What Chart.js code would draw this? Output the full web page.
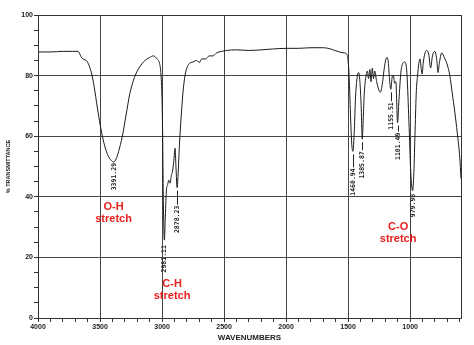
<!DOCTYPE html>
<html>
<head>
<meta charset="utf-8">
<script src="https://cdn.jsdelivr.net/npm/chart.js@4.4.0/dist/chart.umd.min.js"></script>
<style>
  html, body { margin: 0; padding: 0; background: #fff; }
  #wrap { width: 474px; height: 345px; }
</style>
</head>
<body>
<div id="wrap"><canvas id="irChart"></canvas></div>
<script>
// IR spectrum (wavenumber in cm-1, % transmittance)
var wavenumbers = [
    4000, 3900, 3800, 3720, 3677, 3650, 3630, 3610, 3595, 3570,
    3550, 3520, 3500, 3470, 3440, 3410, 3391.29, 3370, 3350, 3320,
    3290, 3260, 3230, 3200, 3150, 3100, 3070, 3040, 3020, 3010,
    3000, 2995, 2990, 2981.11, 2975, 2965, 2955, 2945, 2935, 2925,
    2915, 2905, 2895, 2888, 2878.23, 2870, 2860, 2845, 2830, 2815,
    2800, 2780, 2750, 2720, 2700, 2680, 2650, 2620, 2590, 2560,
    2520, 2480, 2400, 2300, 2200, 2100, 2000, 1900, 1800, 1700,
    1650, 1600, 1560, 1530, 1510, 1500, 1490, 1480, 1470, 1460.94,
    1450, 1440, 1425, 1415, 1405, 1395, 1385.87, 1378, 1370, 1355,
    1345, 1335, 1325, 1315, 1305, 1295, 1285, 1270, 1250, 1240,
    1225, 1210, 1195, 1185, 1175, 1165, 1155.51, 1145, 1135, 1125,
    1115, 1101.49, 1090, 1075, 1060, 1045, 1035, 1025, 1010, 995,
    979.98, 970, 960, 950, 940, 930, 920, 910, 903, 895,
    880, 865, 850, 835, 820, 800, 785, 775, 765, 745,
    725, 700, 680, 660, 640, 620, 600, 590
];
var transmittance = [
    87.8, 87.8, 88, 88, 88, 86, 85.3, 85, 84, 81,
    77, 69, 64, 58, 54, 52, 51.5, 52.5, 55, 60,
    67, 74, 78.5, 81.5, 84.5, 86, 86.5, 85.5, 84, 81,
    72, 60, 40, 25.7, 32, 42, 44, 45.5, 44.5, 47,
    48.5, 52, 56, 50, 43, 48, 57, 67, 75, 80,
    82.5, 84, 84.5, 85, 84.3, 85.5, 85.5, 86.5, 86.5, 87.5,
    88, 88.3, 88.5, 88.3, 88.5, 88.8, 89, 89, 89.2, 89.2,
    88.9, 88.2, 87.7, 87.5, 87, 85, 78, 66, 57, 55,
    62, 73, 80, 81, 78, 70, 59, 66, 74, 80,
    81.5, 79, 82, 78, 82.5, 79, 81.5, 78, 75, 74.5,
    77, 82, 85.5, 86, 84, 78, 75.5, 79.5, 80, 77.5,
    78, 64.5, 72, 81, 84, 84.5, 84, 80, 65, 48,
    42, 48, 62, 75, 80, 84, 85.5, 82, 80.5, 84,
    87.5, 88.3, 87, 82.5, 86.5, 88, 85, 81, 84, 87.5,
    86, 83.5, 80, 74, 68, 61, 53, 46
];

var xTickValues = [4000, 3900, 3800, 3700, 3600, 3500, 3400, 3300, 3200, 3100, 3000,
    2900, 2800, 2700, 2600, 2500, 2400, 2300, 2200, 2100, 2000, 1900, 1800, 1700,
    1600, 1500, 1400, 1300, 1200, 1100, 1000, 900, 800, 700, 600];
var yTickValues = [0, 5, 10, 15, 20, 25, 30, 35, 40, 45, 50, 55, 60, 65, 70, 75, 80, 85, 90, 95, 100];

var peakWavenumbers = [3391.29, 2981.11, 2878.23, 1460.94, 1385.87, 1155.51, 1101.49, 979.98];
var peakLabels = ['3391.29', '2981.11', '2878.23', '1460.94', '1385.87', '1155.51', '1101.49', '979.98'];

var bandNames = [['O-H', 'stretch'], ['C-H', 'stretch'], ['C-O', 'stretch']];
var bandWavenumbers = [3391, 2919, 1097];
var bandTransmittance = [34.8, 9.1, 28];

var points = wavenumbers.map(function(w, i) { return { x: w, y: transmittance[i] }; });

// peak numbers written vertically under each minimum, with a small leader line
var peakLabelPlugin = {
    id: 'peakLabels',
    afterDatasetsDraw: function(chart, args, opts) {
        var ctx = chart.ctx;
        var xs = chart.scales.x, ys = chart.scales.y;
        ctx.save();
        ctx.font = 'bold 6.5px "DejaVu Sans Mono"';
        ctx.fillStyle = '#222';
        ctx.strokeStyle = '#222';
        ctx.lineWidth = 1;
        peakWavenumbers.forEach(function(wn, i) {
            var idx = wavenumbers.indexOf(wn);
            var px = Math.round(xs.getPixelForValue(wn)) + 0.5;
            var py = ys.getPixelForValue(transmittance[idx]);
            var top = py + opts.gaps[i];
            if (opts.gaps[i] > 6) {
                ctx.beginPath();
                ctx.moveTo(px, py + 3);
                ctx.lineTo(px, top - 1);
                ctx.stroke();
            }
            ctx.save();
            ctx.translate(px, top);
            ctx.rotate(-Math.PI / 2);
            ctx.textAlign = 'right';
            ctx.textBaseline = 'middle';
            ctx.fillText(peakLabels[i], 0, 0);
            ctx.restore();
        });
        // red band assignments
        ctx.font = 'bold 11px Arial';
        ctx.fillStyle = '#e8201e';
        ctx.textAlign = 'center';
        ctx.textBaseline = 'middle';
        bandNames.forEach(function(lines, i) {
            var bx = xs.getPixelForValue(bandWavenumbers[i]);
            var by = ys.getPixelForValue(bandTransmittance[i]);
            ctx.fillText(lines[0], bx, by - 6);
            ctx.fillText(lines[1], bx, by + 6);
        });
        ctx.restore();
    }
};

var framePlugin = {
    id: 'frame',
    afterDraw: function(chart) {
        var a = chart.chartArea, ctx = chart.ctx;
        ctx.save();
        ctx.strokeStyle = '#333';
        ctx.lineWidth = 1;
        ctx.strokeRect(Math.round(a.left) + 0.5, Math.round(a.top) + 0.5,
            Math.round(a.right - a.left), Math.round(a.bottom - a.top));
        ctx.restore();
    }
};

var ctx = document.getElementById('irChart').getContext('2d');

var irChart = new Chart(ctx, {
    type: 'line',
    data: {
        datasets: [{
            data: points,
            borderColor: '#1a1a1a',
            borderWidth: 1,
            pointRadius: 0,
            cubicInterpolationMode: 'monotone',
            fill: false
        }]
    },
    options: {
        responsive: true,
        maintainAspectRatio: false,
        animation: false,
        layout: { padding: { left: 0, top: 15, right: 13, bottom: 0 } },
        plugins: {
            legend: { display: false },
            tooltip: { enabled: false },
            peakLabels: { gaps: [1, 5, 18, 17, 12, 13, 10, 3] }
        },
        scales: {
            x: {
                type: 'linear',
                reverse: true,
                min: 590,
                max: 4000,
                afterBuildTicks: function(scale) {
                    scale.ticks = xTickValues.map(function(v) { return { value: v }; });
                },
                afterFit: function(scale) { scale.height = 27; },
                border: { display: false },
                grid: {
                    color: function(c) {
                        var v = c.tick ? c.tick.value : 0;
                        return (v % 500 === 0 && v !== 4000) ? '#444' : 'rgba(0,0,0,0)';
                    },
                    tickColor: '#333',
                    tickLength: 4
                },
                ticks: {
                    autoSkip: false,
                    maxRotation: 0,
                    padding: 1,
                    color: '#222',
                    font: { family: 'Arial', size: 7, weight: 'bold' },
                    callback: function(v) { return v % 500 === 0 ? v : ''; }
                },
                title: {
                    display: true,
                    text: 'WAVENUMBERS',
                    color: '#222',
                    font: { family: 'Arial', size: 8, weight: 'bold' },
                    padding: { top: 0, bottom: 2 }
                }
            },
            y: {
                min: 0,
                max: 100,
                afterBuildTicks: function(scale) {
                    scale.ticks = yTickValues.map(function(v) { return { value: v }; });
                },
                afterFit: function(scale) { scale.width = 38; },
                border: { display: false },
                grid: {
                    color: function(c) {
                        var v = c.tick ? c.tick.value : 0;
                        return (v % 20 === 0 && v !== 0 && v !== 100) ? '#444' : 'rgba(0,0,0,0)';
                    },
                    tickColor: '#333',
                    tickLength: 4
                },
                ticks: {
                    autoSkip: false,
                    padding: 1,
                    color: '#222',
                    font: { family: 'Arial', size: 7, weight: 'bold' },
                    callback: function(v) { return v % 20 === 0 ? v : ''; }
                },
                title: {
                    display: true,
                    text: '% TRANSMITTANCE',
                    color: '#222',
                    font: { family: 'Arial', size: 5.5, weight: 'bold' },
                    padding: { top: 5, bottom: 0 }
                }
            }
        }
    },
    plugins: [peakLabelPlugin, framePlugin]
});
</script>
</body>
</html>
